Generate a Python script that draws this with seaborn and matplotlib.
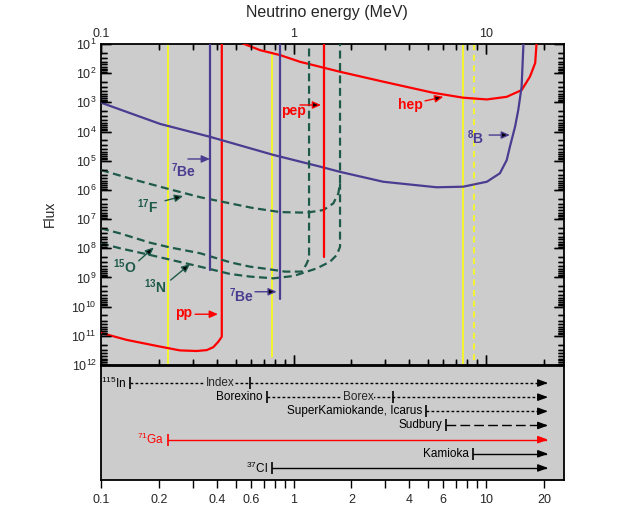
import numpy as np
import pandas as pd
import matplotlib
matplotlib.use("Agg")
import matplotlib.pyplot as plt
import matplotlib.ticker as mticker
import seaborn as sns

sns.set_style("white")
plt.rcParams['font.family'] = ['Liberation Sans', 'DejaVu Sans']
plt.rcParams['mathtext.default'] = 'regular'

# Colours
RED = '#ff0000'
PURPLE = '#4b3c91'
GREEN = '#1e5a4a'
YELLOW = '#ffff00'
BG = '#cccccc'

# ---- flux spectra (energy in MeV, log10 of flux) ----
pp_E = [0.1, 0.136, 0.203, 0.257, 0.314, 0.354, 0.383, 0.407, 0.424]
pp_logF = [10.90, 11.14, 11.37, 11.50, 11.52, 11.49, 11.39, 11.20, 11.03]
pp_end = 0.424

hep_E = [0.53, 0.67, 0.851, 1.08, 1.74, 2.92, 5.30, 7.60, 10.1, 12.8, 15.3, 16.9, 18.0, 18.3]
hep_logF = [0.95, 1.21, 1.38, 1.61, 1.95, 2.29, 2.67, 2.84, 2.90, 2.81, 2.58, 2.12, 1.65, 0.95]

b8_E = [0.1, 0.203, 0.368, 0.785, 1.37, 1.74, 2.92, 5.54, 7.60, 10.1, 11.8, 12.8, 13.3, 14.15, 14.7, 15.3, 15.65]
b8_logF = [3.01, 3.74, 4.18, 4.80, 5.20, 5.38, 5.72, 5.91, 5.89, 5.72, 5.43, 4.98, 4.52, 3.83, 3.26, 2.46, 0.95]

f17_E = [0.1, 0.147, 0.219, 0.327, 0.468, 0.594, 0.644, 0.851, 1.171, 1.429, 1.61, 1.709, 1.744]
f17_logF = [5.32, 5.64, 5.95, 6.25, 6.46, 6.60, 6.64, 6.76, 6.78, 6.69, 6.46, 6.12, 5.77]
f17_end = 1.744

o15_E = [0.1, 0.1255, 0.18, 0.228, 0.327, 0.468, 0.594, 0.697, 0.904, 1.103, 1.161, 1.204]
o15_logF = [7.32, 7.49, 7.81, 7.97, 8.17, 8.48, 8.63, 8.69, 8.80, 8.80, 8.57, 8.34]
o15_end = 1.204

n13_E = [0.1, 0.1255, 0.18, 0.327, 0.468, 0.594, 0.785, 1.0, 1.32, 1.548, 1.677, 1.744]
n13_logF = [7.83, 8.00, 8.23, 8.63, 8.88, 8.97, 9.03, 8.95, 8.69, 8.46, 8.23, 7.95]
n13_end = 1.744

# line sources
be7_E = [0.368, 0.851]
be7_logF = [8.745, 9.75]
pep_E = 1.44
pep_logF = 8.31

# detector thresholds drawn as yellow verticals in the flux panel
thr_E = [0.223, 0.773, 7.62, 8.66]
thr_lo = [1.0, 1.31, 1.0, 1.0]
thr_hi = [12.0, 11.73, 12.0, 12.0]
thr_dashed = [False, False, False, True]

# ---- detectors ----
det_names = ['$^{115}$In', 'Borexino', 'SuperKamiokande, Icarus', 'Sudbury',
             '$^{71}$Ga', 'Kamioka', '$^{37}$Cl']
det_thresh = [0.1416, 0.728, 4.88, 6.19, 0.223, 8.55, 0.773]
det_row = [1, 2, 3, 4, 5, 6, 7]
det_color = ['black', 'black', 'black', 'black', RED, 'black', 'black']
det_style = [(0, (2, 1.6)), (0, (2, 1.6)), (0, (2, 1.6)), (0, (7, 3)), '-', '-', '-']
det_end = 21.0
sub_names = ['Index', 'Borex']
sub_pos = [0.415, 2.16]
sub_thresh = [0.594, 3.29]
sub_row = [1, 2]

det_ticks = [0.1, 0.2, 0.3, 0.4, 0.5, 0.6, 0.7, 0.8, 0.9, 1, 2, 3, 4, 5, 6, 7, 8, 9, 10, 20]
det_ticklabels = ['0.1', '0.2', '', '0.4', '', '0.6', '', '', '', '1', '2', '', '4', '',
                  '6', '', '', '', '10', '20']

XMIN, XMAX = 0.1, 25.4
TOP = 10 ** 0.5  # beyond the upper edge, for the spectrum cut-offs

fig = plt.figure(figsize=(6.39, 5.15), dpi=100)
fig.patch.set_facecolor('white')
ax1 = fig.add_axes([101 / 639, 1 - 365 / 515, 463 / 639, 321 / 515])
ax2 = fig.add_axes([101 / 639, 1 - 480 / 515, 463 / 639, 114 / 515])

for ax in (ax1, ax2):
    ax.set_facecolor(BG)
    ax.set_xscale('log')
    for sp in ax.spines.values():
        sp.set_linewidth(1.3)
        sp.set_color('black')
ax1.set_yscale('log')

# yellow thresholds
for e, lo, hi, dashed in zip(thr_E, thr_lo, thr_hi, thr_dashed):
    ax1.plot([e, e], [10 ** lo, 10 ** hi], color=YELLOW, lw=1.1,
             ls=(0, (4, 3)) if dashed else '-', zorder=1)


def spectrum(E, logF, end, color, dashed=False, drop_to=TOP):
    x = list(E) + ([end] if end is not None else [])
    y = [10 ** v for v in logF] + ([drop_to] if end is not None else [])
    df = pd.DataFrame({'E': x, 'F': y})
    sns.lineplot(data=df, x='E', y='F', ax=ax1, sort=False, estimator=None,
                 color=color, lw=1.6, zorder=3)
    if dashed:
        ax1.lines[-1].set_linestyle((0, (3.6, 2.0)))


spectrum(pp_E, pp_logF, pp_end, RED)
spectrum(hep_E, hep_logF, None, RED)
spectrum(b8_E, b8_logF, None, PURPLE)
spectrum(f17_E, f17_logF, f17_end, GREEN, dashed=True)
spectrum(o15_E, o15_logF, o15_end, GREEN, dashed=True)
# 13N shares its cut-off with 17F: stop where it meets it
spectrum(n13_E, n13_logF, n13_end, GREEN, dashed=True, drop_to=10 ** f17_logF[-1])

for e, lf in zip(be7_E, be7_logF):
    ax1.plot([e, e], [10 ** lf, TOP], color=PURPLE, lw=1.6, zorder=3)
ax1.plot([pep_E, pep_E], [10 ** pep_logF, TOP], color=RED, lw=1.6, zorder=3)


# labels with arrows
def flabel(txt, pos, start, tip, color, head='black'):
    ax1.text(pos[0], 10 ** pos[1], txt, color=color, fontsize=10, fontweight='bold',
             ha='center', va='center', zorder=5)
    ax1.annotate('', xy=(tip[0], 10 ** tip[1]), xytext=(start[0], 10 ** start[1]),
                 arrowprops=dict(arrowstyle='-|>,head_length=0.5,head_width=0.22',
                                 ec=color, fc=head, lw=1.0, shrinkA=0, shrinkB=0),
                 zorder=5)


flabel('$^{7}$Be', (0.267, 5.35), (0.283, 4.94), (0.368, 4.94), PURPLE, PURPLE)
flabel('$^{17}$F', (0.1755, 6.59), (0.215, 6.37), (0.267, 6.21), GREEN)
flabel('$^{15}$O', (0.133, 8.64), (0.157, 8.43), (0.188, 7.97), GREEN)
flabel('$^{13}$N', (0.191, 9.33), (0.230, 9.09), (0.290, 8.54), GREEN)
flabel('pp', (0.267, 10.22), (0.308, 10.26), (0.405, 10.26), RED, RED)
flabel('$^{7}$Be', (0.540, 9.64), (0.631, 9.49), (0.818, 9.49), PURPLE, 'black')
flabel('pep', (1.0, 3.31), (1.08, 3.09), (1.39, 3.09), RED)
flabel('hep', (4.03, 3.09), (4.82, 2.95), (6.0, 2.81), RED)
flabel('$^{8}$B', (8.87, 4.22), (10.37, 4.12), (13.3, 4.12), PURPLE)

# ticks: decades and 2..9 minors
x_major = [10.0 ** k for k in range(-1, 2)]
x_minor = [m * 10.0 ** k for k in range(-1, 2) for m in range(2, 10) if m * 10.0 ** k < XMAX]
y_major = [10.0 ** k for k in range(1, 13)]
y_minor = [m * 10.0 ** k for k in range(1, 12) for m in range(2, 10)]

ax1.set_xlim(XMIN, XMAX)
ax1.set_ylim(1e12, 1e1)
ax1.xaxis.set_major_locator(mticker.FixedLocator(x_major))
ax1.xaxis.set_minor_locator(mticker.FixedLocator(x_minor))
ax1.xaxis.set_major_formatter(mticker.FixedFormatter(['0.1', '1', '10']))
ax1.xaxis.set_minor_formatter(mticker.NullFormatter())
ax1.yaxis.set_major_locator(mticker.FixedLocator(y_major))
ax1.yaxis.set_minor_locator(mticker.FixedLocator(y_minor))
ax1.yaxis.set_major_formatter(mticker.FixedFormatter(
    ['$10^{%d}$' % k for k in range(1, 13)]))
ax1.yaxis.set_minor_formatter(mticker.NullFormatter())
ax1.tick_params(axis='both', which='both', direction='in', top=True, bottom=True,
                left=True, right=True, labeltop=True, labelbottom=False,
                labelsize=9, width=1.0, color='black', pad=3)
ax1.tick_params(axis='both', which='major', length=7)
ax1.tick_params(axis='both', which='minor', length=4)
ax1.set_xlabel('')
ax1.set_ylabel('')

# inward tick marks as short segments on all four edges
xt = ax1.get_xaxis_transform()
yt = ax1.get_yaxis_transform()
for locs, fy, fx in ((x_major, 0.031, None), (x_minor, 0.017, None)):
    ax1.vlines(locs, 0, fy, transform=xt, colors='black', lw=1.0, zorder=6)
    ax1.vlines(locs, 1 - fy, 1, transform=xt, colors='black', lw=1.0, zorder=6)
for locs, fx in ((y_major, 0.0216), (y_minor, 0.012)):
    ax1.hlines(locs, 0, fx, transform=yt, colors='black', lw=1.0, zorder=6)
    ax1.hlines(locs, 1 - fx, 1, transform=yt, colors='black', lw=1.0, zorder=6)
ax1.set_xlim(XMIN, XMAX)
ax1.set_ylim(1e12, 1e1)

# detector panel
for name, thr, row, c, ls in zip(det_names, det_thresh, det_row, det_color, det_style):
    ax2.plot([thr, det_end * 0.97], [row, row], color=c, lw=1.0, ls=ls, zorder=2)
    ax2.plot([thr], [row], marker='|', ms=8, mew=1.2, color=c, zorder=3)
    ax2.annotate('', xy=(det_end, row), xytext=(det_end * 0.95, row),
                 arrowprops=dict(arrowstyle='-|>,head_length=0.6,head_width=0.22',
                                 color=c, lw=1.0, shrinkA=0, shrinkB=0))
    ax2.annotate(name, xy=(thr, row), xytext=(-3, 0), textcoords='offset points',
                 ha='right', va='center', fontsize=8.5, color=c)

for name, pos, thr, row in zip(sub_names, sub_pos, sub_thresh, sub_row):
    ax2.text(pos, row, name, ha='center', va='center', fontsize=8.5, zorder=4,
             bbox=dict(fc=BG, ec='none', pad=0.6))
    ax2.plot([thr], [row], marker='|', ms=8, mew=1.2, color='black', zorder=3)

ax2.set_xlim(XMIN, XMAX)
ax2.set_ylim(7.85, -0.2)
ax2.xaxis.set_major_locator(mticker.FixedLocator(det_ticks))
ax2.xaxis.set_major_formatter(mticker.FixedFormatter(det_ticklabels))
ax2.xaxis.set_minor_locator(mticker.NullLocator())
ax2.set_yticks([])
ax2.tick_params(axis='x', which='major', direction='out', length=6, width=1.0,
                color='black', labelsize=9, bottom=True, top=False, pad=4)

fig.text(327 / 639, 1 - 13 / 515, 'Neutrino energy (MeV)', ha='center', va='center',
         fontsize=11.5)
fig.text(50 / 639, 1 - 214 / 515, 'Flux', rotation=90, ha='center', va='center',
         fontsize=10)

fig.savefig('out.png', dpi=100, facecolor='white')
